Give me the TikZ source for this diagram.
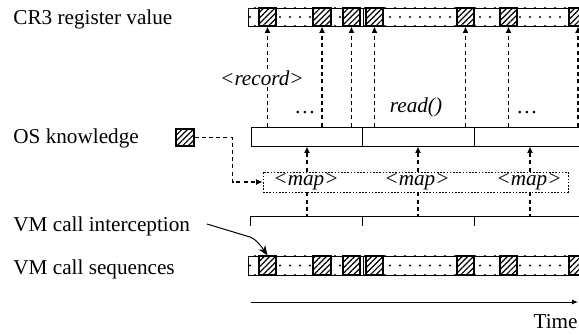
\documentclass[tikz,border=0pt]{standalone}
\usepackage{fontspec}
\setmainfont{Liberation Serif}
\usetikzlibrary{arrows.meta,patterns.meta,fit}
\tikzset{
  every node/.style={font=\fontsize{10.6}{12}\selectfont},
  lbl/.style={anchor=base west, inner sep=0pt},
  box/.style={draw, fill=white, inner sep=0pt, line width=0.5pt},
  hatchbox/.style={draw, fill=white, inner sep=0pt, line width=0.55pt,
     postaction={pattern={Lines[angle=45,distance=2pt,line width=0.6pt]}}},
  dsh/.style={line width=0.6pt, dash pattern=on 2pt off 1.6pt},
  tip/.style={-{Latex[length=3.2pt,width=3pt]}},
  mapbox/.style={draw, inner sep=0pt, line width=0.45pt, dash pattern=on 0.8pt off 0.8pt},
  itl/.style={font=\fontsize{10.6}{12}\selectfont\itshape, inner sep=1pt},
}
\newcommand{\dotrow}[3]{\foreach \x in {#1,#2,...,600} {\fill (\x,#3) circle (0.55pt);}}
\begin{document}
\begin{tikzpicture}[x=0.5pt,y=-0.5pt]
\useasboundingbox (0,0) rectangle (579,334);

% labels
\node[lbl] (lcr3) at (13,24) {CR3 register value};
\node[lbl] (los) at (13,143) {OS knowledge};
\node[lbl] (lvmi) at (13,231) {VM call interception};
\node[lbl] (lvms) at (13,274) {VM call sequences};
\node[anchor=base east, inner sep=0pt] (ltime) at (578,328) {Time};

% ---- top bar (CR3)
\node[box, fit={(248,8)(590,26)}] (cr3) {};
\dotrow{250}{260}{17}
\dotrow{255}{265}{8}
\dotrow{255}{265}{26}
\node[hatchbox, fit={(259,8)(276,26)}] (t1) {};
\node[hatchbox, fit={(313,8)(331,26)}] (t2) {};
\node[hatchbox, fit={(343,8)(360,26)}] (t3) {};
\node[hatchbox, fit={(366,8)(383,26)}] (t4) {};
\node[hatchbox, fit={(457,8)(474,26)}] (t5) {};
\node[hatchbox, fit={(500,8)(517,26)}] (t6) {};
\node[hatchbox, fit={(569,8)(587,26)}] (t7) {};
\draw[line width=0.5pt] (363,8) -- (363,26);

% ---- OS knowledge bar
\node[box, fit={(251,127)(362,146)}] (os1) {};
\node[box, fit={(362,127)(474,146)}] (os2) {};
\node[box, fit={(474,127)(590,146)}] (os3) {};
\node[hatchbox, fit={(176,129)(194,146)}] (osk) {};

% vertical dashed arrows up to CR3
\foreach \t in {t1,t2,t3,t4,t5,t6,t7} {
  \draw[dsh,tip] (\t.south |- os1.north) -- (\t.south);
}
\node[itl, fill=white] (rec) at (262,78) {<record>};
\node[itl, fill=white] (rd) at (416,107) {read()};
\node[inner sep=0pt] (dd1) at (305,113) {\ldots};
\node[inner sep=0pt] (dd2) at (527,113) {\ldots};

% ---- map box
\node[mapbox, fit={(263,172)(568,192)}] (map) {};
\node[itl] (m1) at (306,182) {<map>};
\node[itl] (m2) at (417,182) {<map>};
\node[itl] (m3) at (529,182) {<map>};
\coordinate (a1) at (307,182);
\coordinate (a2) at (418,182);
\coordinate (a3) at (530,182);
\foreach \a in {a1,a2,a3} {
  \draw[dsh,tip] (\a |- map.north) -- (\a |- os1.south);
}
\draw[dsh,tip] (osk.east) -- ++(38,0) |- (map.west);

% ---- bracket
\coordinate (bl) at (250,216);
\coordinate (br) at (590,216);
\draw[line width=0.5pt] (bl) -- (br);
\draw[line width=0.5pt] (bl) -- ++(0,10);
\draw[line width=0.5pt] (362,216) -- ++(0,10);
\draw[line width=0.5pt] (474,216) -- ++(0,10);
\foreach \a in {a1,a2,a3} {
  \draw[dsh] (\a |- map.south) -- (\a |- bl);
}

% ---- bottom bar (VM call sequences)
\node[box, fit={(248,256)(590,275)}] (vms) {};
\dotrow{250}{260}{265.5}
\dotrow{255}{265}{256}
\dotrow{255}{265}{275}
\node[hatchbox, fit={(259,256)(276,275)}] (b1) {};
\node[hatchbox, fit={(313,256)(331,275)}] (b2) {};
\node[hatchbox, fit={(343,256)(360,275)}] (b3) {};
\node[hatchbox, fit={(366,256)(383,275)}] (b4) {};
\node[hatchbox, fit={(457,256)(474,275)}] (b5) {};
\node[hatchbox, fit={(500,256)(517,275)}] (b6) {};
\node[hatchbox, fit={(569,256)(587,275)}] (b7) {};
\draw[line width=0.5pt] (363,256) -- (363,275);

% interception arrow
\coordinate (ics) at (207,224);
\draw[line width=0.5pt, -{Stealth[length=5pt,width=4pt]}] (ics) -- (250,237) .. controls (256,239) and (261,246) .. (b1.north);

% time axis
\coordinate (ta) at (251,302);
\coordinate (tb) at (578,302);
\draw[line width=0.5pt, -{Latex[length=3pt,width=2.5pt]}] (ta) -- (tb);
\end{tikzpicture}
\end{document}
